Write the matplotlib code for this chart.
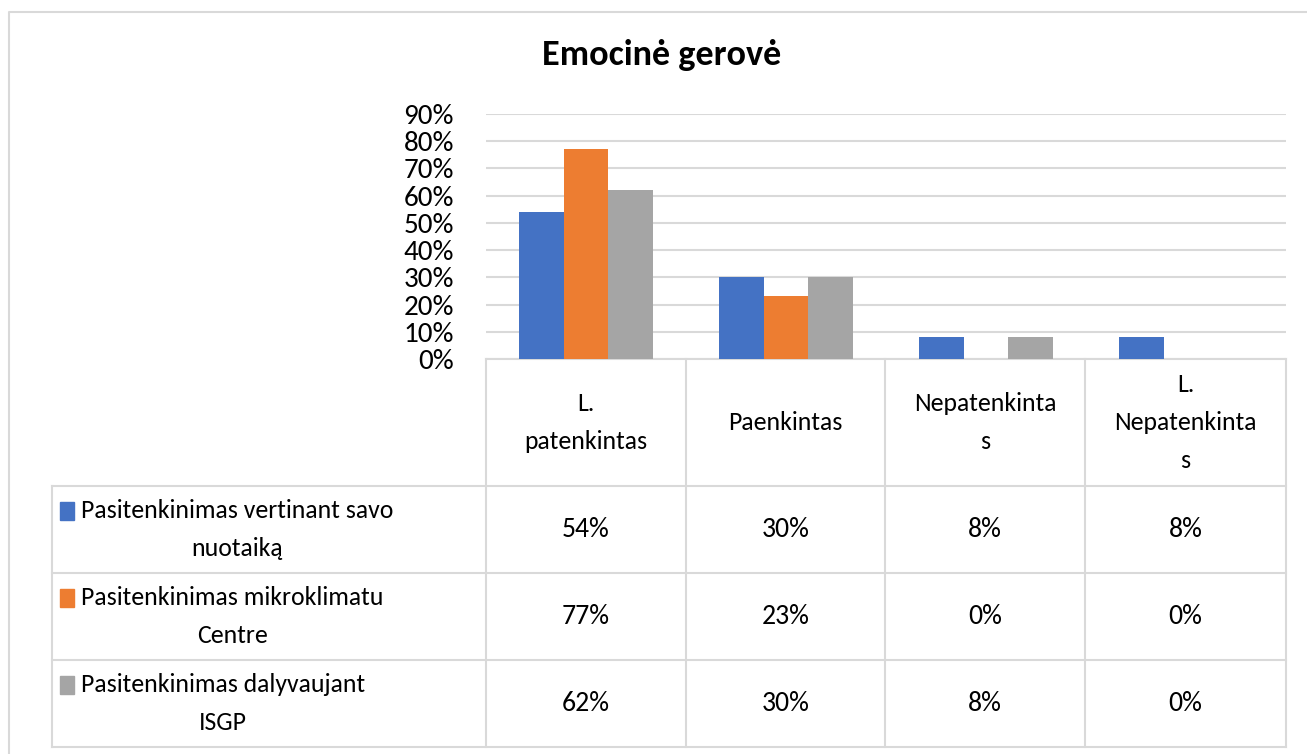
import matplotlib
matplotlib.use("Agg")
import matplotlib.pyplot as plt
import numpy as np

# ---- data ----
title = "Emocinė gerovė"
categories = ["L.\npatenkintas", "Paenkintas", "Nepatenkinta\ns", "L.\nNepatenkinta\ns"]
series_names = ["Pasitenkinimas vertinant savo\nnuotaiką",
                "Pasitenkinimas mikroklimatu\nCentre",
                "Pasitenkinimas dalyvaujant\nISGP"]
values_nuotaika = [0.54, 0.30, 0.08, 0.08]
values_mikroklimatas = [0.77, 0.23, 0.00, 0.00]
values_isgp = [0.62, 0.30, 0.08, 0.00]
yticks = [0.0, 0.1, 0.2, 0.3, 0.4, 0.5, 0.6, 0.7, 0.8, 0.9]
colors = ["#4472C4", "#ED7D31", "#A5A5A5"]

series_values = [values_nuotaika, values_mikroklimatas, values_isgp]

FONTS = ["Carlito", "Lato", "DejaVu Sans"]
plt.rcParams['font.family'] = FONTS
W, H = 1307, 754
fig = plt.figure(figsize=(W / 100, H / 100), dpi=100)

# overlay axes in pixel coordinates for frame and table
ov = fig.add_axes([0, 0, 1, 1])
ov.set_xlim(0, W)
ov.set_ylim(H, 0)
ov.axis("off")

gridc = "#D9D9D9"
# chart border
ov.plot([9, 9, W + 5], [H + 5, 12, 12], color=gridc, lw=1.5, solid_capstyle="butt")

# plot area
px_left, px_right, px_top, px_bottom = 486, 1286, 114, 359
ax = fig.add_axes([px_left / W, (H - px_bottom) / H,
                   (px_right - px_left) / W, (px_bottom - px_top) / H])
n_cat = len(categories)
x = np.arange(n_cat)
bw = 0.2225
for i, (vals, c) in enumerate(zip(series_values, colors)):
    ax.bar(x + (i - 1) * bw, vals, width=bw, color=c, zorder=3)
ax.set_xlim(-0.5, n_cat - 0.5)
ax.set_ylim(0, 0.9)
ax.set_yticks(yticks)
ax.set_yticklabels([f"{int(round(t * 100))}%" for t in yticks], fontsize=21)
ax.tick_params(axis="y", length=0, pad=23)
ax.set_xticks([])
for s in ax.spines.values():
    s.set_visible(False)
ax.yaxis.grid(True, color=gridc, lw=1.5, zorder=0)
ax.patch.set_alpha(0)

fig.text(662 / W, 1 - 55 / H, title, ha="center", va="center", fontsize=26,
         fontweight="bold")

# ---- data table ----
col_edges = [486, 686, 885, 1085, 1286]
row_edges = [359, 486, 573, 660, 747]
leg_left = 52
lw = 1.5
ov.plot([col_edges[0], col_edges[-1]], [row_edges[0]] * 2, color=gridc, lw=lw)
for y in row_edges[1:]:
    ov.plot([leg_left, col_edges[-1]], [y, y], color=gridc, lw=lw)
for xe in col_edges:
    ov.plot([xe, xe], [row_edges[0], row_edges[-1]], color=gridc, lw=lw)
ov.plot([leg_left, leg_left], [row_edges[1], row_edges[-1]], color=gridc, lw=lw)

fs = 18.5
fs_val = 20
lsp = 1.8
for j, cat in enumerate(categories):
    cx = (col_edges[j] + col_edges[j + 1]) / 2
    cy = (row_edges[0] + row_edges[1]) / 2
    ov.text(cx, cy, cat, ha="center", va="center", fontsize=fs, linespacing=lsp)

for i, (name, vals, c) in enumerate(zip(series_names, series_values, colors)):
    y0, y1 = row_edges[i + 1], row_edges[i + 2]
    cy = (y0 + y1) / 2
    ov.add_patch(plt.Rectangle((60, cy - 27.5), 14, 18, color=c))
    ov.text(81, cy, name, ha="left", va="center", multialignment="center",
            fontsize=fs, linespacing=lsp)
    for j, v in enumerate(vals):
        cx = (col_edges[j] + col_edges[j + 1]) / 2
        ov.text(cx, cy, f"{int(round(v * 100))}%", ha="center", va="center", fontsize=fs_val)

fig.savefig("out.png", dpi=100)
